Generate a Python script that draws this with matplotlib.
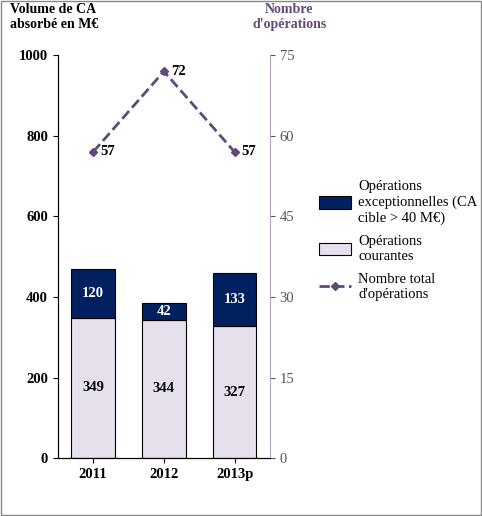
import matplotlib.pyplot as plt
from matplotlib.patches import Rectangle

years = ["2011", "2012", "2013p"]
courantes = [349, 344, 327]
exceptionnelles = [120, 42, 133]
nb_operations = [57, 72, 57]

plt.rcParams["font.family"] = ["Liberation Serif", "DejaVu Serif"]
navy = "#002060"
lilac = "#e6e0ec"
purple = "#604a7b"

fig = plt.figure(figsize=(4.82, 5.16), dpi=100)
fig.patches.append(Rectangle((0.002, 0.002), 0.996, 0.996, transform=fig.transFigure,
                             fill=False, edgecolor="#888888", lw=1))
ax = fig.add_axes([0.12, 0.112, 0.44, 0.781])
x = range(len(years))
b1 = ax.bar(x, courantes, width=0.62, color=lilac, edgecolor="black", lw=0.8,
            label="Opérations\ncourantes")
b2 = ax.bar(x, exceptionnelles, bottom=courantes, width=0.62, color=navy,
            edgecolor="black", lw=0.8, label="Opérations\nexceptionnelles (CA\ncible > 40 M€)")
for i in x:
    ax.text(i, courantes[i] / 2, str(courantes[i]), ha="center", va="center",
            fontsize=10.5, fontweight="bold")
    ax.text(i, courantes[i] + exceptionnelles[i] / 2, str(exceptionnelles[i]),
            ha="center", va="center", fontsize=10.5, fontweight="bold", color="white")
ax.set_xlim(-0.5, 2.5)
ax.set_ylim(0, 1000)
ax.set_yticks(range(0, 1001, 200))
ax.set_xticks(list(x))
ax.set_xticklabels(years, fontweight="bold")
ax.tick_params(labelsize=10.5)
for t in ax.get_yticklabels():
    t.set_fontweight("bold")
ax.spines["top"].set_visible(False)
ax.spines["right"].set_visible(False)

ax2 = ax.twinx()
ln, = ax2.plot(list(x), nb_operations, ls="--", color=purple, lw=2, marker="D",
               markersize=4, label="Nombre total\nd'opérations")
for i in x:
    ax2.text(i + 0.1, nb_operations[i], str(nb_operations[i]), va="center",
             fontsize=10.5, fontweight="bold")
ax2.set_ylim(0, 75)
ax2.set_yticks(range(0, 76, 15))
ax2.tick_params(labelsize=10.5, colors="#555555")
ax2.spines["top"].set_visible(False)
ax2.spines["right"].set_color("#b3a2c7")

fig.text(0.02, 0.995, "Volume de CA\nabsorbé en M€", ha="left", va="top",
         fontsize=10, fontweight="bold")
fig.text(0.60, 0.995, "Nombre\nd'opérations", ha="center", va="top",
         fontsize=10, fontweight="bold", color=purple)
fig.legend(handles=[b2, b1, ln], loc="upper left", bbox_to_anchor=(0.64, 0.67),
           frameon=False, fontsize=10.5, handlelength=2.2, handleheight=0.9,
           handletextpad=0.5, labelspacing=0.7, borderpad=0.2)
fig.savefig("out.png")
